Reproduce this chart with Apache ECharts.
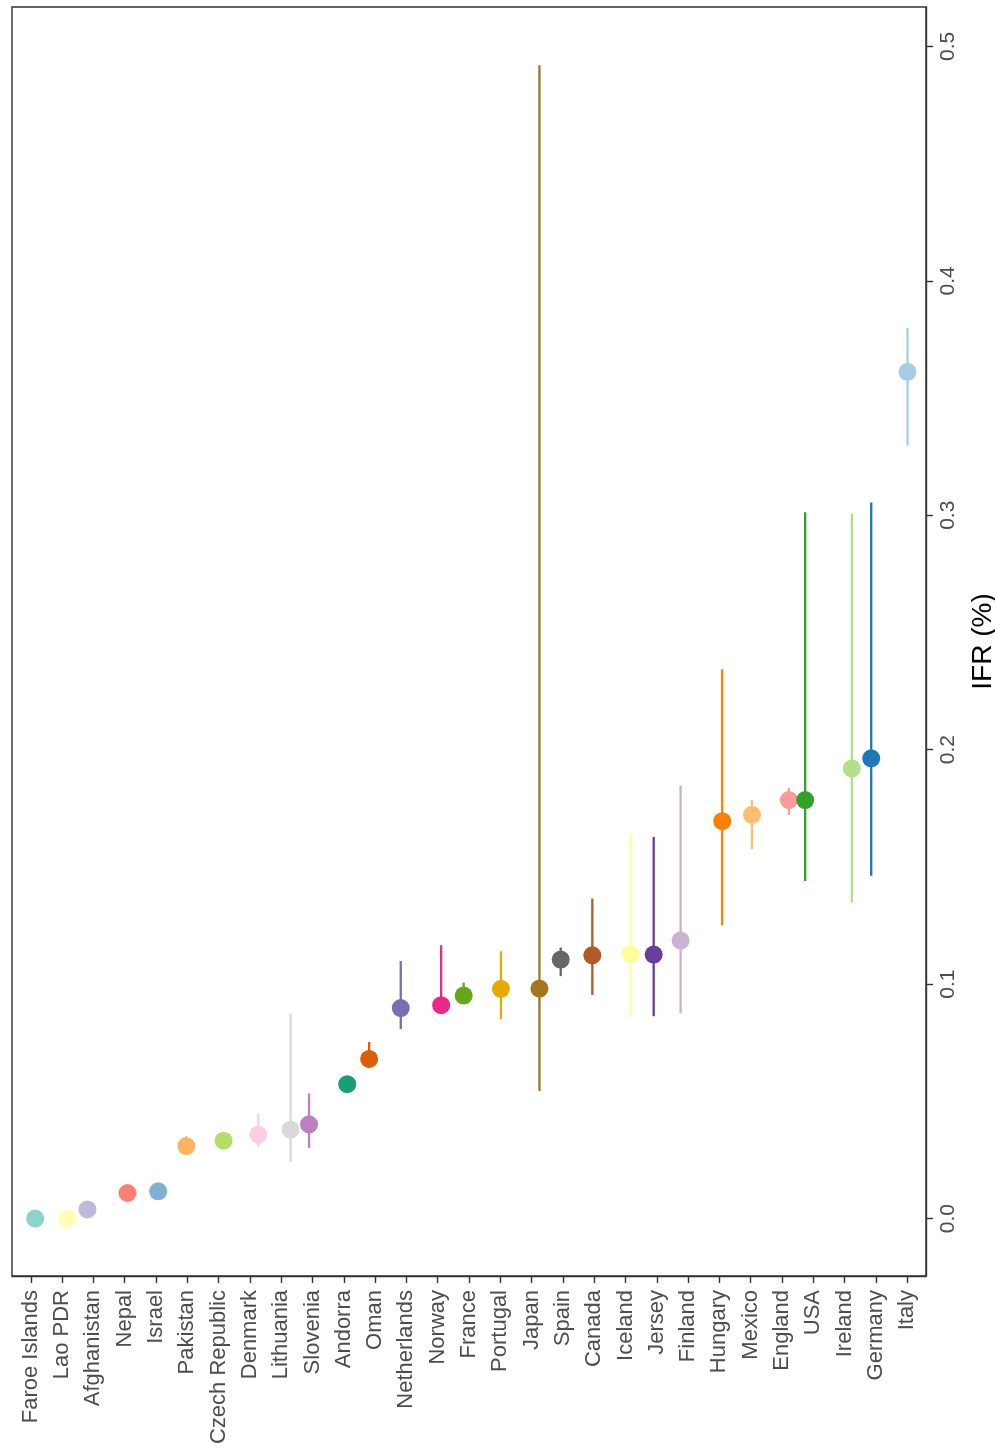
<!DOCTYPE html>
<html>
<head>
<meta charset="utf-8">
<title>IFR (%) by country</title>
<script src="https://cdn.jsdelivr.net/npm/echarts@6/dist/echarts.min.js"></script>
<style>
  html, body { margin: 0; padding: 0; background: #ffffff; }
  #chart { width: 995px; height: 1452px; }
</style>
</head>
<body>
<div id="chart"></div>
<script>
// Countries, ordered by estimated IFR
const countries = [
  'Faroe Islands', 'Lao PDR', 'Afghanistan', 'Nepal', 'Israel', 'Pakistan',
  'Czech Republic', 'Denmark', 'Lithuania', 'Slovenia', 'Andorra', 'Oman',
  'Netherlands', 'Norway', 'France', 'Portugal', 'Japan', 'Spain', 'Canada',
  'Iceland', 'Jersey', 'Finland', 'Hungary', 'Mexico', 'England', 'USA',
  'Ireland', 'Germany', 'Italy'
];

// Point estimate of IFR (%)
const ifr = [
  0.000, 0.000, 0.0039, 0.0109, 0.0116, 0.0309,
  0.0332, 0.0358, 0.0379, 0.0402, 0.0573, 0.0681,
  0.0898, 0.0910, 0.0951, 0.0980, 0.0981, 0.1105, 0.1123,
  0.1128, 0.1126, 0.1186, 0.1695, 0.1722, 0.1785, 0.1785,
  0.1920, 0.1963, 0.3612
];

// Lower and upper bounds of the interval (null = no interval drawn)
const ifrLow = [
  null, null, null, null, null, 0.0300,
  null, 0.0305, 0.0241, 0.0301, null, 0.0665,
  0.0808, 0.0890, 0.0935, 0.0850, 0.0544, 0.1034, 0.0954,
  0.0859, 0.0863, 0.0875, 0.1251, 0.1576, 0.1722, 0.1440,
  0.1348, 0.1462, 0.3297
];
const ifrHigh = [
  null, null, null, null, null, 0.0351,
  null, 0.0448, 0.0875, 0.0533, null, 0.0753,
  0.1099, 0.1166, 0.1007, 0.1140, 0.4919, 0.1156, 0.1365,
  0.1643, 0.1628, 0.1846, 0.2343, 0.1785, 0.1837, 0.3013,
  0.3006, 0.3054, 0.3798
];

// Horizontal jitter applied to each country's point (in category units)
const jitter = [
  0.14, 0.17, -0.19, 0.09, 0.07, -0.03,
  0.16, 0.27, 0.30, -0.11, 0.11, -0.19,
  -0.18, 0.11, -0.17, 0.02, 0.25, -0.07, -0.06,
  0.16, -0.10, -0.24, 0.09, 0.04, 0.22, -0.26,
  0.23, -0.15, 0.01
];

// Value-axis tick labels
const yTicks = [0.0, 0.1, 0.2, 0.3, 0.4, 0.5];

// One colour per country
const colors = [
  '#8DD3C7', '#FFFFB3', '#BEBADA', '#FB8072', '#80B1D3', '#FDB462',
  '#B3DE69', '#FCCDE5', '#D9D9D9', '#BC80BD', '#1B9E77', '#D95F02',
  '#7570B3', '#E7298A', '#66A61E', '#E6AB02', '#A6761D', '#666666', '#B15928',
  '#FFFF99', '#6A3D9A', '#CAB2D6', '#FF7F00', '#FDBF6F', '#FB9A99', '#33A02C',
  '#B2DF8A', '#1F78B4', '#A6CEE3'
];

const FONT = '"Liberation Sans", Arial, Helvetica, sans-serif';
const AXIS_COLOR = '#333333';
const TEXT_COLOR = '#4D4D4D';

const tickIdx = countries.map((_, i) => i);

const intervalData = [];
const pointData = [];
countries.forEach((c, i) => {
  const x = i + jitter[i];
  if (ifrLow[i] !== null && ifrHigh[i] !== null) {
    intervalData.push([x, ifrLow[i], ifrHigh[i], i]);
  }
  pointData.push({ value: [x, ifr[i]], itemStyle: { color: colors[i] } });
});

const chart = echarts.init(document.getElementById('chart'), null, { renderer: 'canvas' });

chart.setOption({
  backgroundColor: '#ffffff',
  animation: false,
  grid: {
    left: 12, right: 69, top: 7, bottom: 176,
    containLabel: false,
    outerBoundsMode: 'none',
    show: true,
    borderColor: AXIS_COLOR,
    borderWidth: 1.4,
    backgroundColor: '#ffffff'
  },
  xAxis: {
    type: 'value',
    min: -0.6,
    max: countries.length - 1 + 0.6,
    position: 'bottom',
    splitLine: { show: false },
    axisLine: { show: true, onZero: false, lineStyle: { color: AXIS_COLOR, width: 1.4 } },
    axisTick: {
      show: true, length: 7, inside: false,
      customValues: tickIdx,
      lineStyle: { color: AXIS_COLOR, width: 1.4 }
    },
    axisLabel: {
      show: true,
      customValues: tickIdx,
      rotate: 90,
      margin: 14,
      fontFamily: FONT,
      fontSize: 22,
      color: TEXT_COLOR,
      formatter: v => countries[Math.round(v)] || ''
    }
  },
  yAxis: {
    type: 'value',
    position: 'right',
    min: -0.0245,
    max: 0.5168,
    name: 'IFR (%)',
    nameLocation: 'middle',
    nameRotate: 90,
    nameGap: 43,
    nameTextStyle: { fontFamily: FONT, fontSize: 28, color: '#000000' },
    splitLine: { show: false },
    axisLine: { show: true, onZero: false, lineStyle: { color: AXIS_COLOR, width: 1.4 } },
    axisTick: {
      show: true, length: 7, inside: false,
      customValues: yTicks,
      lineStyle: { color: AXIS_COLOR, width: 1.4 }
    },
    axisLabel: {
      show: true,
      customValues: yTicks,
      rotate: 90,
      margin: 12,
      fontFamily: FONT,
      fontSize: 21,
      color: TEXT_COLOR,
      formatter: v => v.toFixed(1)
    }
  },
  series: [
    {
      name: 'interval',
      type: 'custom',
      data: intervalData,
      encode: { x: 0, y: [1, 2] },
      z: 2,
      renderItem: (params, api) => {
        const x = api.value(0);
        const p1 = api.coord([x, api.value(1)]);
        const p2 = api.coord([x, api.value(2)]);
        return {
          type: 'line',
          shape: { x1: p1[0], y1: p1[1], x2: p2[0], y2: p2[1] },
          style: { stroke: colors[api.value(3)], lineWidth: 2.3 }
        };
      }
    },
    {
      name: 'IFR',
      type: 'scatter',
      data: pointData,
      symbol: 'circle',
      symbolSize: 18,
      z: 3,
      itemStyle: { opacity: 1 }
    }
  ]
});
</script>
</body>
</html>
